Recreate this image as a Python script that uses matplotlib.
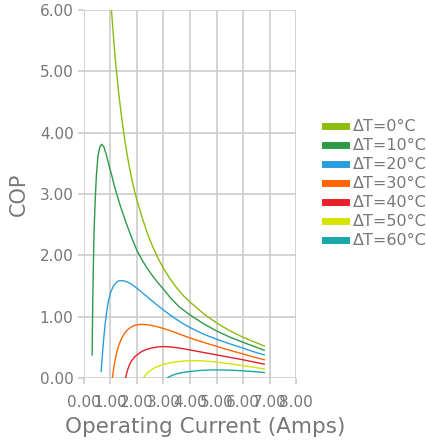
import matplotlib
matplotlib.use("Agg")
import matplotlib.pyplot as plt

# COP vs operating current
dt0_i = [0.9, 1.0, 1.05, 1.1, 1.15, 1.2, 1.3, 1.4, 1.5, 1.6, 1.7, 1.8, 1.9, 2.0, 2.2, 2.4,
         2.6, 2.8, 3.0, 3.25, 3.5, 3.75, 4.0, 4.5, 5.0, 5.5, 6.0, 6.4, 6.8]
dt0_cop = [7.0, 6.25, 5.93, 5.64, 5.37, 5.12, 4.69, 4.32, 4.0, 3.72, 3.47, 3.25, 3.06, 2.9,
           2.61, 2.35, 2.135, 1.95, 1.79, 1.617, 1.47, 1.345, 1.24, 1.056, 0.9, 0.773, 0.667,
           0.594, 0.525]

dt10_i = [0.31, 0.32, 0.33, 0.35, 0.38, 0.42, 0.47, 0.53, 0.60, 0.67, 0.75, 0.85, 0.95,
          1.05, 1.15, 1.25, 1.4, 1.6, 1.8, 2.0, 2.2, 2.4, 2.6, 2.8, 3.0, 3.3, 3.6, 4.0,
          4.5, 5.0, 5.5, 6.0, 6.4, 6.8]
dt10_cop = [0.38, 0.8, 1.15, 1.7, 2.35, 2.85, 3.3, 3.62, 3.77, 3.81, 3.77, 3.63, 3.46,
            3.3, 3.13, 2.98, 2.77, 2.52, 2.29, 2.08, 1.92, 1.78, 1.66, 1.55, 1.45, 1.29, 1.16, 1.03,
            0.89, 0.77, 0.67, 0.585, 0.52, 0.455]

dt20_i = [0.65, 0.67, 0.70, 0.75, 0.8, 0.86, 0.92, 1.0, 1.1, 1.2, 1.3, 1.4, 1.5, 1.65,
          1.8, 2.0, 2.25, 2.5, 2.75, 3.0, 3.25, 3.5, 3.75, 4.0, 4.5, 5.0, 5.5, 6.0, 6.4, 6.8]
dt20_cop = [0.11, 0.23, 0.40, 0.66, 0.88, 1.08, 1.25, 1.39, 1.49, 1.55, 1.585, 1.59, 1.585, 1.565,
            1.53, 1.465, 1.375, 1.285, 1.195, 1.11, 1.03, 0.955, 0.885, 0.825, 0.72, 0.635, 0.56,
            0.49, 0.43, 0.38]

dt30_i = [1.07, 1.09, 1.12, 1.16, 1.22, 1.3, 1.4, 1.5, 1.6, 1.75, 1.9, 2.1, 2.3, 2.5, 2.75,
          3.0, 3.25, 3.5, 3.75, 4.0, 4.5, 5.0, 5.5, 6.0, 6.4, 6.8]
dt30_cop = [0.0, 0.06, 0.15, 0.26, 0.39, 0.52, 0.63, 0.71, 0.77, 0.825, 0.86, 0.875, 0.875, 0.865,
            0.84, 0.81, 0.775, 0.735, 0.695, 0.655, 0.585, 0.52, 0.455, 0.395, 0.345, 0.30]

dt40_i = [1.57, 1.6, 1.65, 1.72, 1.8, 1.9, 2.0, 2.2, 2.4, 2.6, 2.8, 3.0, 3.25, 3.5, 3.75,
          4.0, 4.5, 5.0, 5.5, 6.0, 6.4, 6.8]
dt40_cop = [0.0, 0.06, 0.14, 0.22, 0.285, 0.34, 0.38, 0.44, 0.475, 0.497, 0.51, 0.515, 0.51,
            0.497, 0.48, 0.46, 0.42, 0.38, 0.34, 0.30, 0.265, 0.23]

dt50_i = [2.25, 2.3, 2.4, 2.52, 2.65, 2.8, 3.0, 3.25, 3.5, 3.75, 4.0, 4.25, 4.5, 5.0, 5.5,
          6.0, 6.4, 6.8]
dt50_cop = [0.0, 0.04, 0.09, 0.13, 0.165, 0.195, 0.225, 0.25, 0.268, 0.279, 0.284, 0.285, 0.282,
            0.262, 0.235, 0.205, 0.178, 0.15]

dt60_i = [3.14, 3.2, 3.35, 3.5, 3.75, 4.0, 4.25, 4.5, 4.9, 5.3, 5.7, 6.1, 6.5, 6.8]
dt60_cop = [0.0, 0.02, 0.05, 0.072, 0.095, 0.11, 0.122, 0.13, 0.135, 0.134, 0.128, 0.117,
            0.104, 0.092]

labels = ['ΔT=0°C', 'ΔT=10°C', 'ΔT=20°C', 'ΔT=30°C', 'ΔT=40°C', 'ΔT=50°C', 'ΔT=60°C']
colors = ['#8cbc0c', '#2e9a48', '#2a9edc', '#ff6600', '#e8202a', '#d6e400', '#18a8a8']
series = [(dt0_i, dt0_cop), (dt10_i, dt10_cop), (dt20_i, dt20_cop), (dt30_i, dt30_cop),
          (dt40_i, dt40_cop), (dt50_i, dt50_cop), (dt60_i, dt60_cop)]

grey = '#777777'
fig = plt.figure(figsize=(4.26, 4.46), dpi=100)
ax = fig.add_axes([0.197, 0.152, 0.498, 0.826])

for (x, y), lab, c in zip(series, labels, colors):
    ax.plot(x, y, color=c, lw=1.0, label=lab)

ax.set_xlim(0, 8)
ax.set_ylim(0, 6)
ax.set_xticks(range(0, 9))
ax.set_yticks(range(0, 7))
ax.set_xticklabels(['%.2f' % v for v in range(0, 9)])
ax.set_yticklabels(['%.2f' % v for v in range(0, 7)])
ax.grid(True, color='#cccccc', lw=1.2)
ax.set_axisbelow(True)
for s in ax.spines.values():
    s.set_visible(False)
ax.tick_params(colors='#cccccc', labelcolor=grey, labelsize=11, length=4, width=1.2)
ax.tick_params(axis='x', pad=8)

ax.set_xlabel('Operating Current (Amps)', color=grey, fontsize=15.5)
ax.xaxis.set_label_coords(0.573, -0.105)
ax.set_ylabel('COP', color=grey, fontsize=15, labelpad=7.5)

leg = ax.legend(loc='center left', bbox_to_anchor=(1.137, 0.528), frameon=False,
                fontsize=11.5, handlelength=1.3, handletextpad=0.45, labelspacing=0.25,
                borderaxespad=0, borderpad=0)
for h in leg.get_lines():
    h.set_linewidth(5)
for t in leg.get_texts():
    t.set_color(grey)

fig.savefig('out.png', dpi=100)
